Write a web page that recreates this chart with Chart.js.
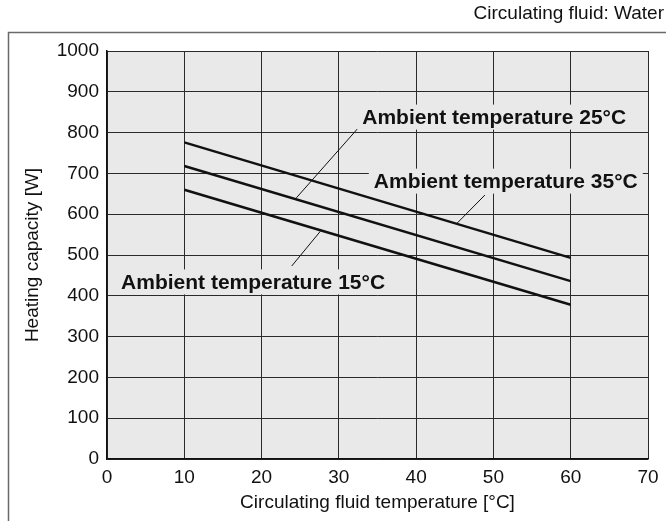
<!DOCTYPE html>
<html>
<head>
<meta charset="utf-8">
<script src="https://cdn.jsdelivr.net/npm/chart.js@4.4.1/dist/chart.umd.min.js"></script>
<style>
html, body { margin: 0; padding: 0; background: #fff; }
#wrap { width: 666px; height: 521px; }
</style>
</head>
<body>
<div id="wrap"><canvas id="heatChart" width="666" height="521"></canvas></div>
<script>
// values
const fluidTemps = [10, 60];
const ambient15 = [660, 378];
const ambient25 = [718, 436];
const ambient35 = [776, 493];
const seriesNames = ['Ambient temperature 15°C', 'Ambient temperature 25°C', 'Ambient temperature 35°C'];
const xTickValues = [0, 10, 20, 30, 40, 50, 60, 70];
const yTickValues = [0, 100, 200, 300, 400, 500, 600, 700, 800, 900, 1000];

const FONT = "'Liberation Sans', Arial, sans-serif";
const PLOT_BG = '#e8e9e8';
const INK = '#111111';

function toPoints(values) {
    return fluidTemps.map((t, i) => ({ x: t, y: values[i] }));
}

// callouts in data units: label centre, leader start, leader end
const callouts = [
    { text: seriesNames[1], at: [50.1, 838], from: [32.4, 809], to: [24.5, 640] },
    { text: seriesNames[2], at: [51.6, 681], from: [48.9, 647], to: [45.3, 578] },
    { text: seriesNames[0], at: [18.9, 434], from: [23.9, 473], to: [27.6, 558] }
];

const decorations = {
    id: 'decorations',
    beforeDraw(chart) {
        const { ctx, chartArea: a } = chart;
        ctx.save();
        ctx.fillStyle = PLOT_BG;
        ctx.fillRect(a.left, a.top, a.right - a.left, a.bottom - a.top);
        // outer frame (only left and top fall inside the picture)
        ctx.strokeStyle = '#6a6a6a';
        ctx.lineWidth = 1.5;
        ctx.beginPath();
        ctx.moveTo(8.5, chart.height);
        ctx.lineTo(8.5, 32.5);
        ctx.lineTo(chart.width, 32.5);
        ctx.stroke();
        ctx.fillStyle = INK;
        ctx.font = '19px ' + FONT;
        ctx.textAlign = 'right';
        ctx.textBaseline = 'middle';
        ctx.fillText('Circulating fluid: Water', 664, 14);
        ctx.restore();
    },
    afterDatasetsDraw(chart) {
        const { ctx, scales: { x, y } } = chart;
        ctx.save();
        ctx.font = 'bold 21px ' + FONT;
        ctx.textAlign = 'center';
        ctx.textBaseline = 'middle';
        callouts.forEach(c => {
            ctx.strokeStyle = INK;
            ctx.lineWidth = 1;
            ctx.beginPath();
            ctx.moveTo(x.getPixelForValue(c.from[0]), y.getPixelForValue(c.from[1]));
            ctx.lineTo(x.getPixelForValue(c.to[0]), y.getPixelForValue(c.to[1]));
            ctx.stroke();
            const cx = x.getPixelForValue(c.at[0]);
            const cy = y.getPixelForValue(c.at[1]);
            const w = ctx.measureText(c.text).width + 10;
            ctx.fillStyle = PLOT_BG;
            ctx.fillRect(cx - w / 2, cy - 12.5, w, 25);
            ctx.fillStyle = INK;
            ctx.fillText(c.text, cx, cy + 1);
        });
        ctx.restore();
    }
};

const lineStyle = { borderColor: INK, borderWidth: 2.5, pointRadius: 0, fill: false, tension: 0 };

new Chart(document.getElementById('heatChart'), {
    type: 'line',
    data: {
        datasets: [
            { label: seriesNames[0], data: toPoints(ambient15), ...lineStyle },
            { label: seriesNames[1], data: toPoints(ambient25), ...lineStyle },
            { label: seriesNames[2], data: toPoints(ambient35), ...lineStyle }
        ]
    },
    options: {
        responsive: false,
        animation: false,
        layout: { padding: { top: 51, right: 18, left: 0, bottom: 0 } },
        plugins: { legend: { display: false }, tooltip: { enabled: false } },
        scales: {
            x: {
                type: 'linear',
                min: 0,
                max: 70,
                afterBuildTicks: s => { s.ticks = xTickValues.map(v => ({ value: v })); },
                afterFit: s => { s.height = 62; },
                grid: { color: '#2a2a2a', lineWidth: 1, drawTicks: false },
                border: { color: INK, width: 1.5 },
                ticks: { color: INK, padding: 7, font: { family: FONT, size: 19 }, callback: v => String(v) },
                title: {
                    display: true,
                    text: 'Circulating fluid temperature [°C]',
                    color: INK,
                    font: { family: FONT, size: 19 },
                    padding: { top: 0, bottom: 7 }
                }
            },
            y: {
                min: 0,
                max: 1000,
                afterBuildTicks: s => { s.ticks = yTickValues.map(v => ({ value: v })); },
                afterFit: s => { s.width = 107; },
                grid: { color: '#2a2a2a', lineWidth: 1, drawTicks: false },
                border: { color: INK, width: 1.5 },
                ticks: { color: INK, padding: 8, font: { family: FONT, size: 19 }, callback: v => String(v) },
                title: {
                    display: true,
                    text: 'Heating capacity [W]',
                    color: INK,
                    font: { family: FONT, size: 19 },
                    padding: { top: 21, bottom: 0 }
                }
            }
        }
    },
    plugins: [decorations]
});
</script>
</body>
</html>
